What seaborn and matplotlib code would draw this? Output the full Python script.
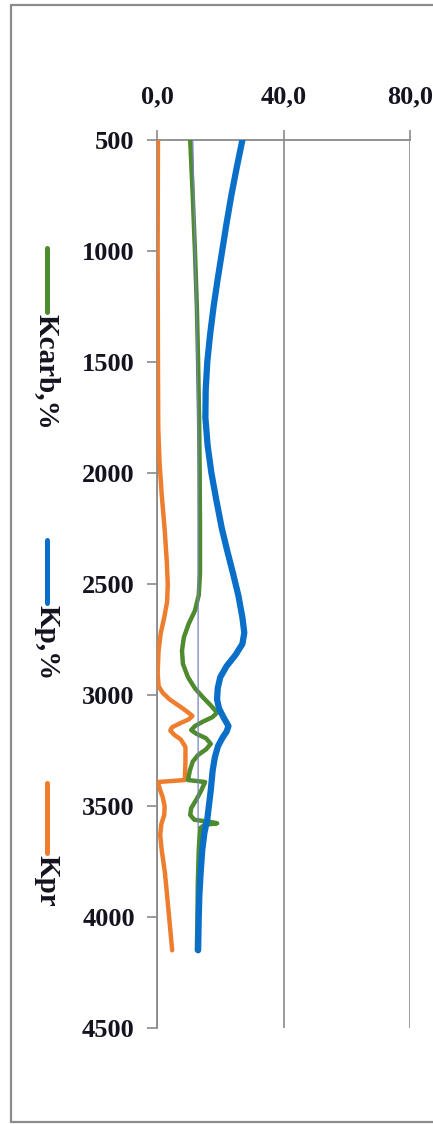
import numpy as np
import pandas as pd
import seaborn as sns
import matplotlib
matplotlib.use("Agg")
import matplotlib.pyplot as plt
from matplotlib.lines import Line2D

# ---- data: depth (m) vs. coefficient value ----
kcarb_depth = [500, 750, 1000, 1250, 1500, 1750, 2000, 2250, 2450, 2550, 2620, 2680,
               2740, 2800, 2860, 2920, 2970, 3010, 3050, 3080, 3100, 3120, 3140, 3158,
               3175, 3195, 3220, 3245, 3270, 3300, 3340, 3383, 3392, 3430, 3470, 3510,
               3540, 3562, 3572, 3578, 3585, 3600, 3700, 3850, 4000, 4150]
kcarb_val = [10.5, 11.3, 12.0, 12.6, 13.0, 13.3, 13.5, 13.6, 13.6, 13.2, 12.0, 10.0,
             8.5, 7.9, 8.2, 9.8, 12.0, 14.5, 17.2, 19.0, 17.5, 14.5, 12.0, 10.8,
             12.5, 15.5, 17.0, 15.5, 13.0, 11.3, 10.4, 9.8, 15.2, 14.0, 12.5, 10.8,
             10.5, 11.8, 17.0, 19.0, 15.0, 13.6, 13.2, 12.9, 12.8, 12.6]

kp_depth = [500, 625, 750, 875, 1000, 1125, 1250, 1375, 1500, 1625, 1750, 1875,
            2000, 2125, 2250, 2350, 2450, 2550, 2650, 2720, 2770, 2820, 2870, 2920,
            2970, 3020, 3060, 3100, 3140, 3165, 3190, 3230, 3280, 3340, 3430, 3500,
            3560, 3620, 3700, 3800, 3900, 4000, 4150]
kp_val = [27.0, 25.2, 23.5, 22.0, 20.6, 19.2, 17.9, 16.8, 15.9, 15.4, 15.3, 16.0,
          17.2, 18.8, 20.5, 22.2, 24.0, 25.7, 27.0, 27.6, 27.0, 24.8, 22.0, 20.0,
          19.2, 19.0, 19.6, 21.0, 22.6, 22.0, 20.8, 19.3, 18.3, 17.6, 17.0, 16.4,
          15.9, 15.0, 14.3, 13.8, 13.4, 13.2, 13.0]

kpr_depth = [500, 1000, 1500, 1800, 1950, 2100, 2250, 2400, 2500, 2580, 2650, 2720,
             2800, 2900, 2960, 2990, 3020, 3054, 3080, 3095, 3110, 3126, 3145, 3160,
             3180, 3200, 3234, 3300, 3383, 3392, 3420, 3460, 3500, 3540, 3580, 3630,
             3700, 3800, 3950, 4150]
kpr_val = [0.3, 0.2, 0.3, 0.4, 0.8, 1.5, 2.4, 3.1, 3.4, 3.2, 2.3, 1.2,
           0.5, 0.2, 0.5, 1.8, 4.0, 7.5, 10.0, 11.2, 10.0, 7.5, 4.8, 4.2,
           5.5, 7.5, 9.0, 9.0, 8.8, 0.3, 0.8, 1.8, 2.4, 2.3, 1.4, 1.0,
           1.5, 2.5, 3.5, 4.8]

base_depth = [500, 1300, 1850, 3600]
base_val = [11.3, 12.5, 13.0, 13.0]

x_ticks = [0, 40, 80]
x_labels = ["0,0", "40,0", "80,0"]
y_ticks = [500, 1000, 1500, 2000, 2500, 3000, 3500, 4000, 4500]
series_names = ["Kcarb,%", "Kp,%", "Kpr"]

GREEN = "#4e8a2e"
BLUE = "#0a6fc8"
ORANGE = "#ef7d2e"
AXIS_GRAY = "#8a8a8a"
TEXT = "#141420"

sns.set_style("white")
plt.rcParams["font.family"] = ["Liberation Serif", "DejaVu Serif"]
plt.rcParams["font.weight"] = "bold"

W, H = 433, 1124
fig = plt.figure(figsize=(W / 100, H / 100), dpi=100)
fig.patch.set_facecolor("white")

left_px, right_px, top_px, bot_px = 157, 410, 140, 1028
ax = fig.add_axes([left_px / W, 1 - bot_px / H, (right_px - left_px) / W, (bot_px - top_px) / H])
ax.set_facecolor("white")


def frame(name, depth, val):
    return pd.DataFrame({"depth": depth, "value": val, "series": name})


df_base = frame("base", base_depth, base_val)
df_kpr = frame(series_names[2], kpr_depth, kpr_val)
df_kcarb = frame(series_names[0], kcarb_depth, kcarb_val)
df_kp = frame(series_names[1], kp_depth, kp_val)

common = dict(x="value", y="depth", sort=False, estimator=None, ax=ax, legend=False,
              solid_joinstyle="round")
sns.lineplot(data=df_kpr, color=ORANGE, lw=3.2, zorder=3, **common)
sns.lineplot(data=df_kcarb, color=GREEN, lw=3.2, zorder=4, **common)
sns.lineplot(data=df_kp, color=BLUE, lw=4.5, zorder=5, **common)
sns.lineplot(data=df_base, color="#7383b8", lw=0.9, zorder=6, **common)

ax.set_xlim(0, 80)
ax.set_ylim(4500, 500)
ax.set_xticks(x_ticks)
ax.set_xticklabels(x_labels)
ax.set_yticks(y_ticks)
ax.set_yticklabels([str(t) for t in y_ticks])
ax.set_xlabel("")
ax.set_ylabel("")

ax.grid(axis="x", color=AXIS_GRAY, lw=1.2)
ax.grid(axis="y", visible=False)
for side in ("right", "bottom"):
    ax.spines[side].set_visible(False)
for side in ("top", "left"):
    ax.spines[side].set_visible(True)
    ax.spines[side].set_color(AXIS_GRAY)
    ax.spines[side].set_linewidth(1.3)

ax.xaxis.set_ticks_position("top")
ax.tick_params(axis="x", top=True, bottom=False, labeltop=True, labelbottom=False,
               length=7, width=1.2, color=AXIS_GRAY, pad=16, labelsize=19, labelcolor=TEXT)
ax.tick_params(axis="y", left=True, length=7, width=1.2, color=AXIS_GRAY, pad=9,
               labelsize=19, labelcolor=TEXT)
for lab in ax.get_xticklabels() + ax.get_yticklabels():
    lab.set_fontweight("bold")

# vertical legend on the left
legend_items = [
    (series_names[0], GREEN, 248, 312),
    (series_names[1], BLUE, 540, 603),
    (series_names[2], ORANGE, 783, 853),
]
lx = 47
for name, col, y0, y1 in legend_items:
    fig.add_artist(Line2D([lx / W, lx / W], [1 - y0 / H, 1 - y1 / H],
                          transform=fig.transFigure, color=col, lw=3.6))
    fig.text(lx / W, 1 - (y1 + 2) / H, name, rotation=270, ha="center", va="top",
             fontsize=21, fontweight="bold", color=TEXT)

# outer frame
fx0, fy0, fy1 = 10.5, 5, 1122
for xs, ys in (([fx0 / W, 1.0], [1 - fy0 / H] * 2),
               ([fx0 / W] * 2, [1 - fy0 / H, 1 - fy1 / H]),
               ([fx0 / W, 1.0], [1 - fy1 / H] * 2)):
    fig.add_artist(Line2D(xs, ys, transform=fig.transFigure, color="#8c8c8c", lw=1.6))

fig.savefig("out.png", dpi=100, facecolor="white")
